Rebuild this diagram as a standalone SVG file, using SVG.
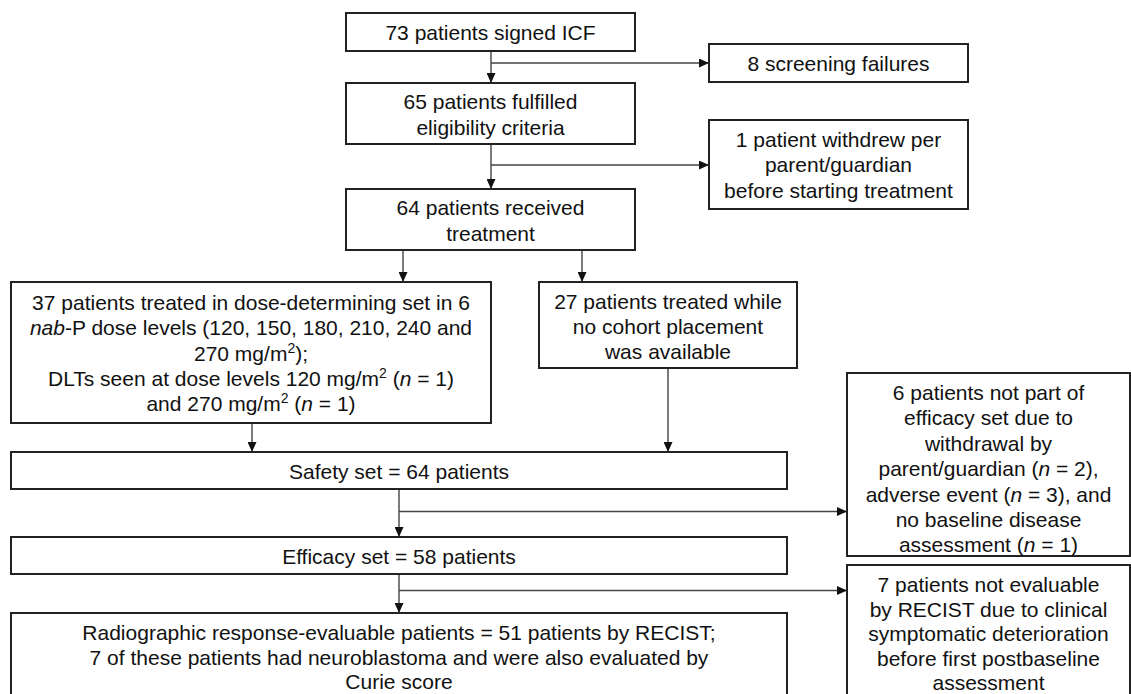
<svg xmlns="http://www.w3.org/2000/svg" width="1131" height="694" viewBox="0 0 1131 694">
<style>
.box{fill:#fff;stroke:#222;stroke-width:2}
.t{font-family:"Liberation Sans",Arial,sans-serif;font-size:21px;fill:#111;text-anchor:middle}
.c{fill:none;stroke:#444;stroke-width:1.4}
.i{font-style:italic}
.sup{font-size:14px}
</style>
<defs>
<marker id="ah" markerUnits="userSpaceOnUse" markerWidth="10" markerHeight="9" refX="10" refY="4.5" orient="auto">
<path d="M0,0 L10,4.5 L0,9 z" fill="#111"/>
</marker>
</defs>
<rect width="1131" height="694" fill="#fff"/>
<g id="connectors">
<line class="c" x1="491" y1="51" x2="491" y2="83" marker-end="url(#ah)"/>
<line class="c" x1="491" y1="63" x2="709" y2="63" marker-end="url(#ah)"/>
<line class="c" x1="491" y1="144" x2="491" y2="189" marker-end="url(#ah)"/>
<line class="c" x1="491" y1="165" x2="709" y2="165" marker-end="url(#ah)"/>
<line class="c" x1="403" y1="250" x2="403" y2="282" marker-end="url(#ah)"/>
<line class="c" x1="582" y1="250" x2="582" y2="282" marker-end="url(#ah)"/>
<line class="c" x1="252" y1="423" x2="252" y2="452" marker-end="url(#ah)"/>
<line class="c" x1="668" y1="368" x2="668" y2="452" marker-end="url(#ah)"/>
<line class="c" x1="399" y1="489" x2="399" y2="537" marker-end="url(#ah)"/>
<line class="c" x1="399" y1="511.5" x2="847" y2="511.5" marker-end="url(#ah)"/>
<line class="c" x1="399" y1="574" x2="399" y2="613" marker-end="url(#ah)"/>
<line class="c" x1="399" y1="590.5" x2="847" y2="590.5" marker-end="url(#ah)"/>
</g>
<g id="n1"><rect class="box" x="346" y="13" width="289" height="38"/>
<text class="t" x="490.5" y="40">73 patients signed ICF</text></g>
<g id="n2"><rect class="box" x="709" y="44" width="259" height="38"/>
<text class="t" x="838.5" y="71">8 screening failures</text></g>
<g id="n3"><rect class="box" x="346" y="83" width="289" height="61"/>
<text class="t" x="490.5" y="109">65 patients fulfilled</text>
<text class="t" x="490.5" y="134.5">eligibility criteria</text></g>
<g id="n4"><rect class="box" x="709" y="120" width="259" height="89"/>
<text class="t" x="838.5" y="147">1 patient withdrew per</text>
<text class="t" x="838.5" y="172.4">parent/guardian</text>
<text class="t" x="838.5" y="197.8">before starting treatment</text></g>
<g id="n5"><rect class="box" x="346" y="189" width="289" height="61"/>
<text class="t" x="490.5" y="215">64 patients received</text>
<text class="t" x="490.5" y="240.5">treatment</text></g>
<g id="n6"><rect class="box" x="11" y="282" width="480" height="141"/>
<text class="t" x="251" y="310">37 patients treated in dose-determining set in 6</text>
<text class="t" x="251" y="335.3"><tspan class="i">nab</tspan>-P dose levels (120, 150, 180, 210, 240 and</text>
<text class="t" x="251" y="360.6">270 mg/m<tspan class="sup" dy="-8">2</tspan><tspan dy="8">);</tspan></text>
<text class="t" x="251" y="385.9">DLTs seen at dose levels 120 mg/m<tspan class="sup" dy="-8">2</tspan><tspan dy="8"> (</tspan><tspan class="i">n</tspan> = 1)</text>
<text class="t" x="251" y="411.2">and 270 mg/m<tspan class="sup" dy="-8">2</tspan><tspan dy="8"> (</tspan><tspan class="i">n</tspan> = 1)</text></g>
<g id="n7"><rect class="box" x="539" y="282" width="258" height="86"/>
<text class="t" x="668" y="308.5">27 patients treated while</text>
<text class="t" x="668" y="333.8">no cohort placement</text>
<text class="t" x="668" y="359.1">was available</text></g>
<g id="n8"><rect class="box" x="847" y="373" width="283" height="183"/>
<text class="t" x="988.5" y="400">6 patients not part of</text>
<text class="t" x="988.5" y="425.4">efficacy set due to</text>
<text class="t" x="988.5" y="450.8">withdrawal by</text>
<text class="t" x="988.5" y="476.2">parent/guardian (<tspan class="i">n</tspan> = 2),</text>
<text class="t" x="988.5" y="501.6">adverse event (<tspan class="i">n</tspan> = 3), and</text>
<text class="t" x="988.5" y="527">no baseline disease</text>
<text class="t" x="988.5" y="552.4">assessment (<tspan class="i">n</tspan> = 1)</text></g>
<g id="n9"><rect class="box" x="11" y="452" width="776" height="37"/>
<text class="t" x="399" y="478.5">Safety set = 64 patients</text></g>
<g id="n10"><rect class="box" x="11" y="537" width="776" height="37"/>
<text class="t" x="399" y="563.5">Efficacy set = 58 patients</text></g>
<g id="n11"><rect class="box" x="847" y="565" width="283" height="140"/>
<text class="t" x="988.5" y="592">7 patients not evaluable</text>
<text class="t" x="988.5" y="616.5">by RECIST due to clinical</text>
<text class="t" x="988.5" y="641">symptomatic deterioration</text>
<text class="t" x="988.5" y="665.5">before first postbaseline</text>
<text class="t" x="988.5" y="690">assessment</text></g>
<g id="n12"><rect class="box" x="11" y="613" width="776" height="90"/>
<text class="t" x="399" y="640">Radiographic response-evaluable patients = 51 patients by RECIST;</text>
<text class="t" x="399" y="664.5">7 of these patients had neuroblastoma and were also evaluated by</text>
<text class="t" x="399" y="689">Curie score</text></g>
</svg>
